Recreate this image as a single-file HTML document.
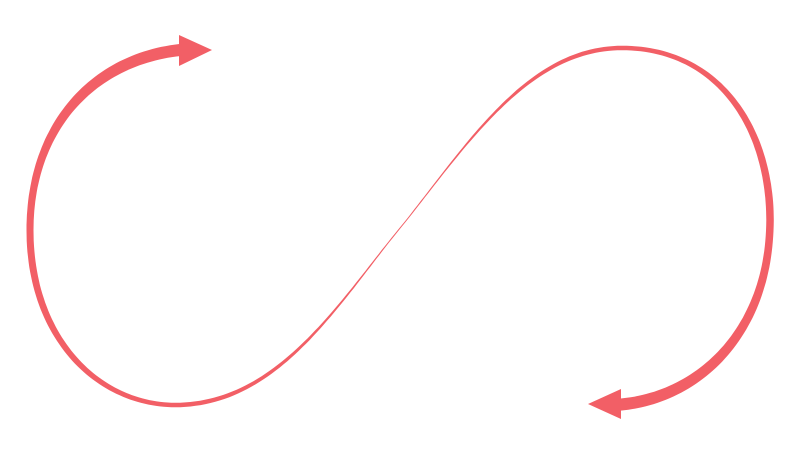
<!DOCTYPE html>
<html><head><meta charset="utf-8"><style>
html,body{margin:0;padding:0;background:#fff;width:800px;height:450px;overflow:hidden}
svg{display:block}
</style></head><body>
<svg id="s" width="800" height="450" viewBox="0 0 800 450" xmlns="http://www.w3.org/2000/svg">
<path id="fb" d="M180,50 C90,62 30,130 30,230 C30,340 100,405 175,405 C280,405 340,300 405,222 C470,140 530,48 622,48 C720,48 770,130 770,220 C770,330 700,400 615,405" fill="none" stroke="#f25f66" stroke-width="5"/>
<polygon id="poly" fill="#f25f66" points=""/>
<polygon points="212,50 179,35 179,66" fill="#f25f66"/>
<polygon points="588,404 621,389 621,419" fill="#f25f66"/>
</svg>
<script>
(function(){
var segs=[
[[180,50],[90,60],[30,130],[30,230]],
[[30,230],[30,340],[100,405],[175,405]],
[[175,405],[280,405],[340,300],[405,222]],
[[405,222],[470,140],[530,48],[622,48]],
[[622,48],[720,48],[770,130],[770,220]],
[[770,220],[770,330],[700,400],[615,405]]];
var W=[12,7,4.5,1,4.5,7.5,12];
function bz(p,t){var u=1-t;return[u*u*u*p[0][0]+3*u*u*t*p[1][0]+3*u*t*t*p[2][0]+t*t*t*p[3][0],u*u*u*p[0][1]+3*u*u*t*p[1][1]+3*u*t*t*p[2][1]+t*t*t*p[3][1]];}
function d(p,t){var u=1-t;return[3*u*u*(p[1][0]-p[0][0])+6*u*t*(p[2][0]-p[1][0])+3*t*t*(p[3][0]-p[2][0]),3*u*u*(p[1][1]-p[0][1])+6*u*t*(p[2][1]-p[1][1])+3*t*t*(p[3][1]-p[2][1])];}
var L=[],R=[],N=60;
for(var i=0;i<6;i++){for(var k=0;k<=N;k++){if(i>0&&k==0)continue;var t=k/N;var P=bz(segs[i],t),D=d(segs[i],t);var l=Math.hypot(D[0],D[1])||1;var nx=-D[1]/l,ny=D[0]/l;var s=i+t;var a=W[i],b=W[i+1];var f=t*t*(3-2*t);var w=(a+(b-a)*f)/2;L.push((P[0]+nx*w).toFixed(1)+","+(P[1]+ny*w).toFixed(1));R.push((P[0]-nx*w).toFixed(1)+","+(P[1]-ny*w).toFixed(1));}}
document.getElementById('poly').setAttribute('points',L.concat(R.reverse()).join(' '));
var fb=document.getElementById('fb');fb.parentNode.removeChild(fb);
})();
</script>
</body></html>
